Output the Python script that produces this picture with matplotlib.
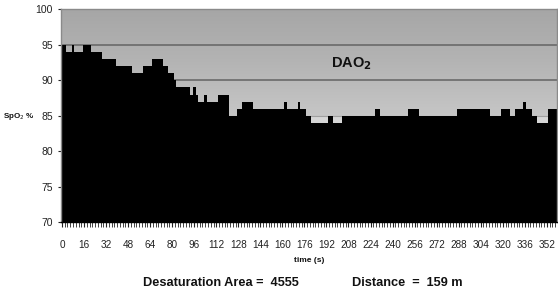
import numpy as np
import matplotlib.pyplot as plt
from matplotlib.colors import LinearSegmentedColormap

# SpO2 samples, one every 2 s (0 .. 358 s)
spo2 = [
    95, 95, 94, 94, 95, 94, 94, 94, 95, 95,
    95, 94, 94, 94, 94, 93, 93, 93, 93, 93,
    92, 92, 92, 92, 92, 92, 91, 91, 91, 91,
    92, 92, 92, 93, 93, 93, 93, 92, 92, 91,
    91, 90, 89, 89, 89, 89, 89, 88, 89, 88,
    87, 87, 88, 87, 87, 87, 87, 88, 88, 88,
    88, 85, 85, 85, 86, 86, 87, 87, 87, 87,
    86, 86, 86, 86, 86, 86, 86, 86, 86, 86,
    86, 87, 86, 86, 86, 86, 87, 86, 86, 85,
    85, 84, 84, 84, 84, 84, 84, 85, 85, 84,
    84, 84, 85, 85, 85, 85, 85, 85, 85, 85,
    85, 85, 85, 85, 86, 86, 85, 85, 85, 85,
    85, 85, 85, 85, 85, 85, 86, 86, 86, 86,
    85, 85, 85, 85, 85, 85, 85, 85, 85, 85,
    85, 85, 85, 85, 86, 86, 86, 86, 86, 86,
    86, 86, 86, 86, 86, 86, 85, 85, 85, 85,
    86, 86, 86, 85, 85, 86, 86, 86, 87, 86,
    86, 85, 85, 84, 84, 84, 84, 86, 86, 86,
]
step_s = 2
time_labels = list(range(0, 353, 16))

desat_area = 4555
distance_m = 159

t = np.arange(len(spo2)) * step_s
edges = np.append(t - step_s / 2, t[-1] + step_s / 2)
vals = np.append(spo2, spo2[-1])

plt.rcParams["font.family"] = ["Liberation Sans Narrow", "Liberation Sans", "DejaVu Sans"]

fig = plt.figure(figsize=(5.58, 3.06), dpi=100)
W, H = 558, 306
ax = fig.add_axes([60.6 / W, 1 - 222.3 / H, (556.5 - 60.6) / W, (222.3 - 9.3) / H])

x0, x1 = edges[0], edges[-1]
ax.set_xlim(x0, x1)
ax.set_ylim(70, 100)
ax.set_facecolor("#d6d6d6")

# gradient background above the curve (dark at top, lighter downwards)
bg_cmap = LinearSegmentedColormap.from_list("bg", ["#a6a6a6", "#b4b4b4", "#c6c6c6"])
grad = np.linspace(0, 1, 256).reshape(-1, 1)
ax.imshow(grad, cmap=bg_cmap, extent=[x0, x1, 85, 100],
          aspect="auto", origin="upper", zorder=0)
ax.axhline(85, color="#a0a0a0", lw=0.8, zorder=1)

ax.fill_between(edges, vals, 70, step="post", color="black", lw=0, zorder=2)

for y in (90, 95):
    ax.axhline(y, color="#6a6a6a", lw=1.2, zorder=1)

for s in ax.spines.values():
    s.set_color("#8a8a8a")
    s.set_linewidth(1.0)
ax.spines["bottom"].set_color("black")

ax.set_yticks(range(70, 101, 5))
ax.tick_params(axis="y", length=2.5, pad=3, labelsize=7.5, colors="#222222")
ax.set_xticks(time_labels)
ax.set_xticks(t, minor=True)
ax.tick_params(axis="x", which="major", length=3.5, pad=9, labelsize=7.2,
               colors="#222222")
ax.tick_params(axis="x", which="minor", length=3.5, width=0.6, color="#222222")

ax.text(210, 92.4, r"DAO$_{\bf 2}$", fontsize=10.5, fontweight="bold",
        family=["Liberation Sans Narrow", "Liberation Sans"],
        ha="center", va="center", color="#111111")

fig.text(18.5 / W, 1 - 117 / H, r"SpO$_2$ %", fontsize=5.8, fontweight="bold",
         ha="center", va="center", color="#111111")
fig.text(309 / W, 1 - 261 / H, "time (s)", fontsize=6, fontweight="bold",
         ha="center", va="center", color="#111111")
fig.text(143 / W, 1 - 283 / H, f"Desaturation Area =  {desat_area}",
         fontsize=9.2, fontweight="bold", family=["Liberation Sans"],
         ha="left", va="center", color="#111111")
fig.text(352 / W, 1 - 283 / H, f"Distance  =  {distance_m} m",
         fontsize=9.2, fontweight="bold", family=["Liberation Sans"],
         ha="left", va="center", color="#111111")

fig.savefig("out.png", dpi=100)
